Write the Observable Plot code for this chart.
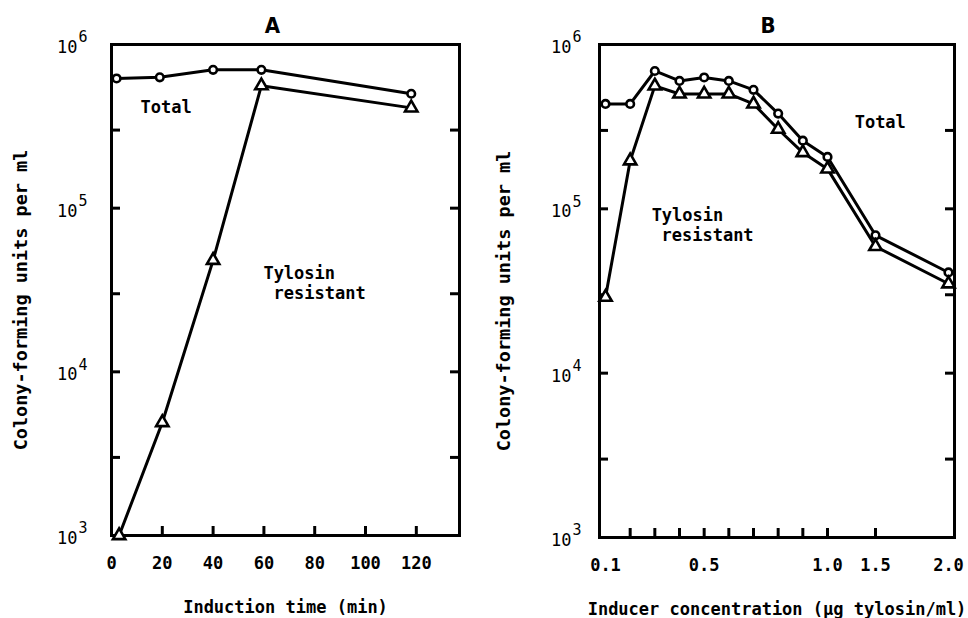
<!DOCTYPE html>
<html>
<head>
<meta charset="utf-8">
<script src="https://cdn.jsdelivr.net/npm/d3@7"></script>
<script src="https://cdn.jsdelivr.net/npm/@observablehq/plot@0.6"></script>
<style>
  html, body { margin: 0; padding: 0; background: #fff; }
  #wrap { display: flex; width: 968px; height: 618px; }
  #wrap svg { display: block; flex: none; }
</style>
</head>
<body>
<div id="wrap"></div>
<script>
// ---------- Panel A: induction time ----------
const timeTotalA = [2, 19, 40, 59, 118];
const cfuTotalA = [6.2e5, 6.3e5, 7.0e5, 7.0e5, 5.0e5];
const timeResistantA = [3, 20, 40, 59, 118];
const cfuResistantA = [1.0e3, 4.9e3, 4.8e4, 5.6e5, 4.1e5];
const xTicksA = [0, 20, 40, 60, 80, 100, 120];

// ---------- Panel B: inducer concentration ----------
const concB = [0.1, 0.2, 0.3, 0.4, 0.5, 0.6, 0.7, 0.8, 0.9, 1.0, 1.5, 2.0];
const cfuTotalB = [4.35e5, 4.35e5, 6.9e5, 6.0e5, 6.3e5, 6.0e5, 5.3e5, 3.8e5, 2.6e5, 2.07e5, 6.9e4, 4.1e4];
const cfuResistantB = [2.9e4, 1.96e5, 5.6e5, 5.0e5, 5.0e5, 5.0e5, 4.35e5, 3.05e5, 2.2e5, 1.75e5, 5.9e4, 3.5e4];
const xTickMarksB = [0.2, 0.3, 0.4, 0.5, 0.6, 0.7, 0.8, 0.9, 1.0, 1.5];
const xTickLabelsB = [0.1, 0.5, 1.0, 1.5, 2.0];

// ---------- shared ----------
const yMajor = [1e3, 1e4, 1e5, 1e6];
const yMinor = [3e3, 3e4, 3e5];
const yLabel = "Colony-forming units per ml";

const notesA = [
  {label: "Total", x: 11.4, y: 4.1e5},
  {label: "Tylosin", x: 59.8, y: 4.0e4},
  {label: "resistant", x: 63.8, y: 3.0e4}
];
const notesB = [
  {label: "Total", x: 1.283, y: 3.35e5},
  {label: "Tylosin", x: 0.287, y: 9.1e4},
  {label: "resistant", x: 0.327, y: 6.85e4}
];

const W = 484, H = 618;
const FONT = "'DejaVu Sans Mono', monospace";

function pairs(xs, ys) { return xs.map((x, i) => ({x, y: ys[i]})); }

function panel({title, titleDx, x, m, xTickMarks, xTickLabels, fmt, xLabel, total, resistant, notes, yLabDx, tenDx, tickDy, xLabDy}) {
  const pw = W - m.left - m.right, ph = H - m.top - m.bottom;
  const yTicks = [...yMajor, ...yMinor];
  return Plot.plot({
    width: W, height: H,
    marginLeft: m.left, marginRight: m.right, marginTop: m.top, marginBottom: m.bottom,
    style: {fontFamily: FONT, fontSize: "17px", color: "black", background: "white", overflow: "visible"},
    x: {...x, axis: null},
    y: {type: "log", domain: [1e3, 1e6], axis: null},
    marks: [
      Plot.tickY(yTicks, {y: d => d, insetRight: pw - 9, strokeWidth: 3}),
      Plot.tickY(yTicks, {y: d => d, insetLeft: pw - 9, strokeWidth: 3}),
      Plot.tickX(xTickMarks, {x: d => d, insetTop: ph - 9, strokeWidth: 3}),
      Plot.frame({strokeWidth: 3}),
      Plot.line(total, {x: "x", y: "y", strokeWidth: 3}),
      Plot.line(resistant, {x: "x", y: "y", strokeWidth: 3}),
      Plot.dot(total, {x: "x", y: "y", symbol: "circle", r: 3.8, fill: "white", stroke: "black", strokeWidth: 2.6}),
      Plot.dot(resistant, {x: "x", y: "y", symbol: "triangle", r: 4.6, fill: "white", stroke: "black", strokeWidth: 2.6}),
      // x tick labels
      Plot.text(xTickLabels, {x: d => d, frameAnchor: "bottom", dy: tickDy, text: fmt, fontSize: 17, fontWeight: "bold", textAnchor: "middle", lineAnchor: "middle"}),
      // y tick labels: 10 with superscript exponent
      Plot.text(yMajor, {y: d => d, frameAnchor: "left", dx: -tenDx, dy: 3, text: () => "10", textAnchor: "end", fontSize: 17, lineAnchor: "middle"}),
      Plot.text(yMajor, {y: d => d, frameAnchor: "left", dx: -tenDx + 1, dy: -7, text: d => String(Math.round(Math.log10(d))), textAnchor: "start", fontSize: 15, lineAnchor: "middle"}),
      // axis labels
      Plot.text([xLabel], {frameAnchor: "bottom", dy: xLabDy, text: d => d, fontSize: 17, fontWeight: "bold", textAnchor: "middle", lineAnchor: "middle"}),
      Plot.text([yLabel], {frameAnchor: "left", dx: -yLabDx, dy: 10, rotate: -90, text: d => d, fontSize: 18.5, fontWeight: "bold", textAnchor: "middle", lineAnchor: "middle"}),
      // panel title
      Plot.text([title], {frameAnchor: "top", dx: titleDx, dy: -19, text: d => d, fontFamily: "'DejaVu Sans Condensed', sans-serif", fontSize: 22, fontWeight: "bold", textAnchor: "middle", lineAnchor: "middle"}),
      // annotations
      Plot.text(notes, {x: "x", y: "y", text: "label", textAnchor: "start", fontSize: 17, fontWeight: "bold", lineAnchor: "middle"})
    ]
  });
}

const mA = {left: 111, right: 25, top: 44, bottom: 83};
const mB = {left: 115, right: 14, top: 44, bottom: 81};

const svgA = panel({
  title: "A", titleDx: -13, m: mA,
  x: {type: "linear", domain: [0, 137]},
  xTickMarks: xTicksA, xTickLabels: xTicksA, fmt: d => String(d),
  xLabel: "Induction time (min)",
  total: pairs(timeTotalA, cfuTotalA), resistant: pairs(timeResistantA, cfuResistantA),
  notes: notesA, yLabDx: 90, tenDx: 34, tickDy: 28, xLabDy: 72
});

const svgB = panel({
  title: "B", titleDx: -9, m: mB,
  x: {type: "linear", domain: [0.1, 1.0, 1.5, 2.0], range: [mB.left + 6, mB.left + 228, mB.left + 276, mB.left + 349]},
  xTickMarks: xTickMarksB, xTickLabels: xTickLabelsB, fmt: d => d.toFixed(1),
  xLabel: "Inducer concentration (µg tylosin/ml)",
  total: pairs(concB, cfuTotalB), resistant: pairs(concB, cfuResistantB),
  notes: notesB, yLabDx: 95, tenDx: 28, tickDy: 28, xLabDy: 72
});

document.getElementById("wrap").append(svgA, svgB);
</script>
</body>
</html>
